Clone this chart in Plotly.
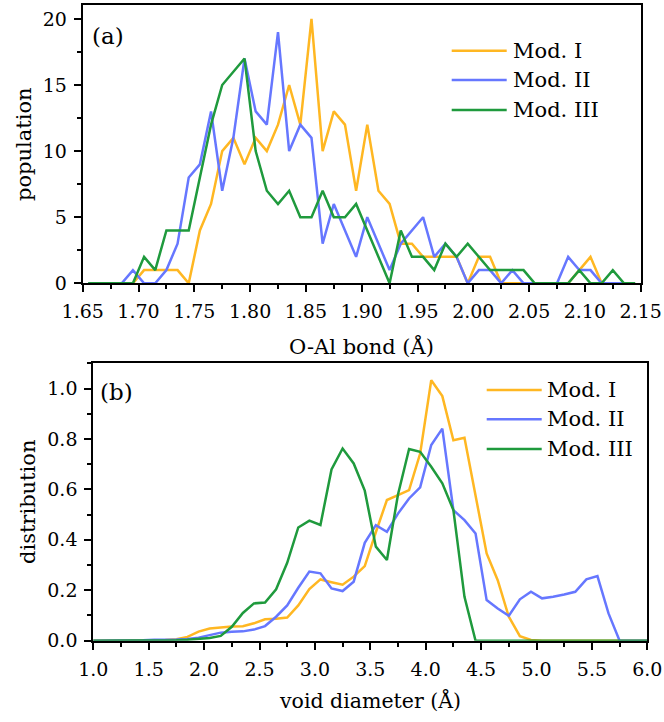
import plotly.graph_objects as go

# top panel: O-Al bond length histogram (bin centres)
bond = [1.655, 1.665, 1.675, 1.685, 1.695, 1.705, 1.715, 1.725, 1.735, 1.745,
        1.755, 1.765, 1.775, 1.785, 1.795, 1.805, 1.815, 1.825, 1.835, 1.845,
        1.855, 1.865, 1.875, 1.885, 1.895, 1.905, 1.915, 1.925, 1.935, 1.945,
        1.955, 1.965, 1.975, 1.985, 1.995, 2.005, 2.015, 2.025, 2.035, 2.045,
        2.055, 2.065, 2.075, 2.085, 2.095, 2.105, 2.115, 2.125, 2.135, 2.145]
pop_mod1 = [0, 0, 0, 0, 0, 1, 1, 1, 1, 0,
            4, 6, 10, 11, 9, 11, 10, 12, 15, 12,
            20, 10, 13, 12, 7, 12, 7, 6, 3, 3,
            2, 2, 2, 2, 0, 2, 2, 0, 0, 0,
            0, 0, 0, 0, 1, 2, 0, 0, 0, 0]
pop_mod2 = [0, 0, 0, 0, 1, 0, 0, 1, 3, 8,
            9, 13, 7, 11, 17, 13, 12, 19, 10, 12,
            11, 3, 6, 4, 2, 5, 3, 1, 3, 4,
            5, 2, 3, 2, 0, 1, 1, 0, 1, 0,
            0, 0, 0, 2, 1, 1, 0, 0, 0, 0]
pop_mod3 = [0, 0, 0, 0, 0, 2, 1, 4, 4, 4,
            8, 12, 15, 16, 17, 10, 7, 6, 7, 5,
            5, 7, 5, 5, 6, 4, 2, 0, 4, 2,
            2, 1, 3, 2, 3, 2, 1, 1, 1, 1,
            0, 0, 0, 0, 1, 0, 0, 1, 0, 0]

# bottom panel: void diameter distribution
void = [0.95, 1.05, 1.15, 1.25, 1.35, 1.45, 1.55, 1.65, 1.75, 1.85,
        1.95, 2.05, 2.15, 2.25, 2.35, 2.45, 2.55, 2.65, 2.75, 2.85,
        2.95, 3.05, 3.15, 3.25, 3.35, 3.45, 3.55, 3.65, 3.75, 3.85,
        3.95, 4.05, 4.15, 4.25, 4.35, 4.45, 4.55, 4.65, 4.75, 4.85,
        4.95, 5.05, 5.15, 5.25, 5.35, 5.45, 5.55, 5.65, 5.75, 5.85,
        5.95, 6.05]
dist_mod1 = [0, 0, 0, 0, 0, 0.001, 0.002, 0.003, 0.006, 0.015,
             0.036, 0.048, 0.052, 0.056, 0.057, 0.069, 0.085, 0.087, 0.092, 0.14,
             0.205, 0.243, 0.232, 0.222, 0.254, 0.296, 0.43, 0.558, 0.577, 0.597,
             0.742, 1.033, 0.97, 0.795, 0.805, 0.575, 0.346, 0.24, 0.095, 0.018,
             0.003, 0, 0, 0, 0, 0, 0, 0, 0, 0,
             0, 0]
dist_mod2 = [0, 0, 0, 0, 0, 0.002, 0.004, 0.004, 0.005, 0.007,
             0.012, 0.022, 0.032, 0.035, 0.037, 0.044, 0.058, 0.095, 0.14, 0.21,
             0.274, 0.267, 0.207, 0.197, 0.234, 0.388, 0.458, 0.432, 0.504, 0.564,
             0.608, 0.776, 0.841, 0.518, 0.478, 0.425, 0.161, 0.128, 0.099, 0.164,
             0.194, 0.168, 0.174, 0.183, 0.194, 0.243, 0.256, 0.108, 0, 0,
             0, 0]
dist_mod3 = [0, 0, 0, 0, 0, 0, 0, 0, 0.002, 0.004,
             0.007, 0.011, 0.019, 0.055, 0.11, 0.148, 0.151, 0.204, 0.309, 0.449,
             0.476, 0.459, 0.679, 0.762, 0.703, 0.595, 0.373, 0.32, 0.58, 0.76,
             0.749, 0.69, 0.624, 0.518, 0.174, 0, 0, 0, 0, 0,
             0, 0, 0, 0, 0, 0, 0, 0, 0, 0,
             0, 0]

names = ["Mod. I", "Mod. II", "Mod. III"]
colors = ["#FFB722", "#6677FF", "#1F9A3D"]
FONT = "DejaVu Serif"
W, H = 664, 722

fig = go.Figure()
for name, col, ys in zip(names, colors, [pop_mod1, pop_mod2, pop_mod3]):
    fig.add_trace(go.Scatter(x=bond, y=ys, mode="lines", name=name,
                             line=dict(color=col, width=2.5), showlegend=False,
                             xaxis="x", yaxis="y"))
for name, col, ys in zip(names, colors, [dist_mod1, dist_mod2, dist_mod3]):
    fig.add_trace(go.Scatter(x=void, y=ys, mode="lines", name=name,
                             line=dict(color=col, width=2.5), showlegend=False,
                             xaxis="x2", yaxis="y2"))

ax = dict(showline=True, linewidth=2, linecolor="black", mirror=True,
          ticks="outside", ticklen=7, tickwidth=1.5, tickcolor="black",
          showgrid=False, zeroline=False, automargin=False, ticklabelstandoff=3,
          tickfont=dict(family=FONT, size=19, color="black"))
mn = dict(ticks="outside", ticklen=4, tickwidth=1.5, tickcolor="black")

fig.update_layout(
    width=W, height=H,
    margin=dict(l=0, r=0, t=0, b=0),
    plot_bgcolor="white", paper_bgcolor="white",
    font=dict(family=FONT, color="black"),
    xaxis=dict(ax, domain=[82.7 / W, 640.7 / W], range=[1.65, 2.15], dtick=0.05, tick0=1.65,
               tickformat=".2f", anchor="y", minor=dict(mn, dtick=0.025)),
    yaxis=dict(ax, domain=[1 - 283.3 / H, 1 - 5 / H], range=[0, 21.05], dtick=5, anchor="x",
               minor=dict(mn, dtick=2.5)),
    xaxis2=dict(ax, domain=[93.3 / W, 647.3 / W], range=[1, 6], dtick=0.5, tick0=1,
                tickformat=".1f", anchor="y2", minor=dict(mn, dtick=0.25)),
    yaxis2=dict(ax, domain=[1 - 640.7 / H, 1 - 363.3 / H], range=[0, 1.1], dtick=0.2,
                tickformat=".1f", anchor="x2", minor=dict(mn, dtick=0.1)),
)

# axis titles
def label(text, x, y, angle=0, size=21):
    fig.add_annotation(text=text, xref="paper", yref="paper", x=x / W, y=1 - y / H,
                       xanchor="center", yanchor="middle", showarrow=False, textangle=angle,
                       font=dict(family=FONT, size=size, color="black"))

label("O-Al bond (Å)", 361, 346)
label("void diameter (Å)", 370, 700, size=20.5)
label("population", 24, 144, -90)
label("distribution", 28, 502, -90)
label("(a)", 108, 36, size=23)
label("(b)", 116, 392, size=23)

# legends (long line samples, as in the original)
def legend(x0, x1, xt, ys):
    for name, col, yy in zip(names, colors, ys):
        fig.add_shape(type="line", xref="paper", yref="paper", x0=x0 / W, x1=x1 / W,
                      y0=1 - yy / H, y1=1 - yy / H, line=dict(color=col, width=2.5))
        fig.add_annotation(text=name, xref="paper", yref="paper", x=xt / W, y=1 - yy / H,
                           xanchor="left", yanchor="middle", showarrow=False,
                           font=dict(family=FONT, size=21, color="black"))

legend(451.7, 506.7, 511, [50.7, 80, 110])
legend(486.7, 541.7, 545, [390, 419.3, 449])

# the page's default body margin would shift the figure by 8 px
fig.write_html("out.html", config={"displayModeBar": False},
               post_script="document.body.style.margin='0';")
